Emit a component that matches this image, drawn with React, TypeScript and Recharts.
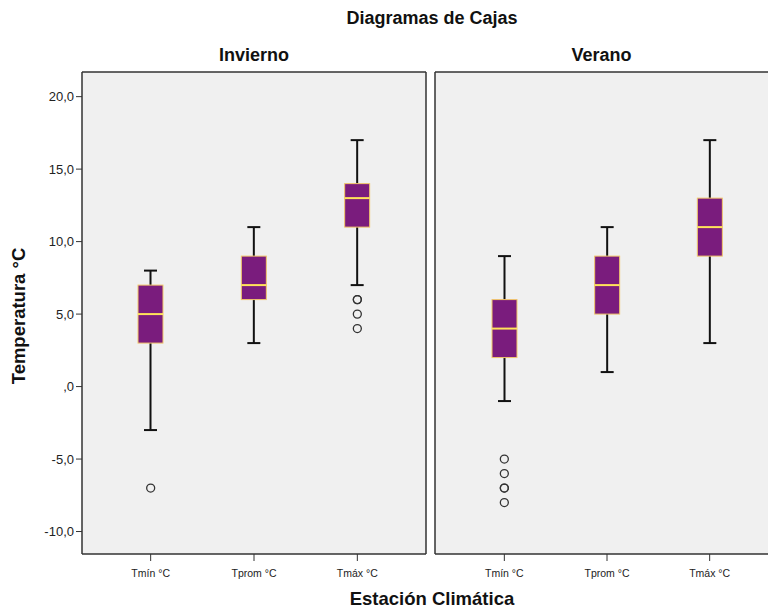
import React from "react";
import { Bar, CartesianGrid, ComposedChart, Scatter, XAxis, YAxis } from "recharts";

const categories = ["Tmín °C", "Tprom °C", "Tmáx °C"];
const yTicks = [-10, -5, 0, 5, 10, 15, 20];
const yDomain = [-11.55, 21.7];

// [min, q1, median, q3, max]
const inviernoStats = [
  [-3, 3, 5, 7, 8],
  [3, 6, 7, 9, 11],
  [7, 11, 13, 14, 17],
];
const veranoStats = [
  [-1, 2, 4, 6, 9],
  [1, 5, 7, 9, 11],
  [3, 9, 11, 13, 17],
];
const inviernoOutliers = [[-7], [], [6, 6, 5, 4]];
const veranoOutliers = [[-5, -6, -7, -7, -8], [], []];

const font = "'Liberation Sans', Arial, sans-serif";
const frame = { stroke: "#333", strokeWidth: 1.5 };

const toRows = (stats: number[][]) =>
  categories.map((cat, i) => {
    const [min, q1, med, q3, max] = stats[i];
    return { cat, min, q1, med, q3, max };
  });

const toPoints = (outs: number[][]) =>
  categories.flatMap((cat, i) => outs[i].map((v) => ({ cat, v })));

const fmt = (v: number) => (v === 0 ? ",0" : v.toFixed(1).replace(".", ","));

const BoxShape = (props: any) => {
  const { x, y, width, height, payload } = props;
  const { min, q1, med, q3, max } = payload;
  const top = Math.min(y, y + height);
  const h = Math.abs(height);
  const k = h / (max - min);
  const py = (v: number) => top + (max - v) * k;
  const cx = x + width / 2;
  const cap = 6.5;
  return (
    <g>
      <line x1={cx} x2={cx} y1={py(max)} y2={py(min)} stroke="#111" strokeWidth={2} />
      <line x1={cx - cap} x2={cx + cap} y1={py(max)} y2={py(max)} stroke="#111" strokeWidth={2} />
      <line x1={cx - cap} x2={cx + cap} y1={py(min)} y2={py(min)} stroke="#111" strokeWidth={2} />
      <rect x={x} y={py(q3)} width={width} height={py(q1) - py(q3)} fill="#7a1c7d" stroke="#f2c76b" strokeWidth={1} />
      <line x1={x} x2={x + width} y1={py(med)} y2={py(med)} stroke="#ffe35a" strokeWidth={2} />
    </g>
  );
};

const Outlier = (props: any) => (
  <circle cx={props.cx} cy={props.cy} r={4} fill="none" stroke="#333" strokeWidth={1.3} />
);

function Panel({ stats, outs, showY, padding }: any) {
  return (
    <ComposedChart
      width={showY ? 430 : 344}
      height={611}
      data={toRows(stats)}
      margin={{ top: 71, right: showY ? 3 : 0, bottom: 0, left: 0 }}
    >
      <CartesianGrid fill="#f0f0f0" horizontal={false} vertical={false} />
      <XAxis
        dataKey="cat"
        type="category"
        allowDuplicatedCategory={false}
        padding={padding}
        height={57}
        axisLine={frame}
        tickSize={7}
        tickMargin={9}
        tickLine={{ stroke: "#333" }}
        tick={{ fontSize: 10.5, fill: "#222", fontFamily: font }}
      />
      <XAxis
        xAxisId="top"
        dataKey="cat"
        type="category"
        allowDuplicatedCategory={false}
        orientation="top"
        height={1}
        axisLine={frame}
        tick={false}
        tickLine={false}
      />
      <YAxis
        type="number"
        domain={yDomain}
        ticks={yTicks}
        allowDataOverflow
        width={showY ? 82 : 1}
        axisLine={frame}
        tickSize={6}
        tickMargin={2}
        tickFormatter={fmt}
        tickLine={showY ? { stroke: "#333" } : false}
        tick={showY ? { fontSize: 13, fill: "#222", fontFamily: font } : false}
      />
      <YAxis
        yAxisId="right"
        orientation="right"
        type="number"
        domain={yDomain}
        allowDataOverflow
        width={1}
        axisLine={frame}
        tick={false}
        tickLine={false}
      />
      <Bar dataKey={(d: any) => [d.min, d.max]} barSize={25} shape={BoxShape} isAnimationActive={false} />
      <Scatter data={toPoints(outs)} dataKey="v" shape={Outlier} isAnimationActive={false} />
    </ComposedChart>
  );
}

export default function App() {
  const bold = { position: "absolute" as const, fontFamily: font, fontWeight: 700, color: "#111", whiteSpace: "nowrap" as const };
  return (
    <div style={{ position: "absolute", left: 0, top: 0, width: 768, height: 611, overflow: "hidden", background: "#fff" }}>
      <div style={{ position: "absolute", left: 0, top: 0 }}>
        <Panel stats={inviernoStats} outs={inviernoOutliers} showY padding={{ left: 17, right: 17 }} />
      </div>
      <div style={{ position: "absolute", left: 434, top: 0 }}>
        <Panel stats={veranoStats} outs={veranoOutliers} showY={false} padding={{ left: 18, right: 16 }} />
      </div>
      <div style={{ ...bold, left: 0, width: 864, top: 8, textAlign: "center", fontSize: 18 }}>Diagramas de Cajas</div>
      <div style={{ ...bold, left: 82, width: 344, top: 45, textAlign: "center", fontSize: 18 }}>Invierno</div>
      <div style={{ ...bold, left: 435, width: 333, top: 45, textAlign: "center", fontSize: 18 }}>Verano</div>
      <div style={{ ...bold, left: 0, width: 864, top: 588, textAlign: "center", fontSize: 18.5 }}>Estación Climática</div>
      <div
        style={{
          ...bold,
          left: 19,
          top: 316,
          fontSize: 18.5,
          transform: "translate(-50%, -50%) rotate(-90deg)",
        }}
      >
        Temperatura °C
      </div>
    </div>
  );
}
